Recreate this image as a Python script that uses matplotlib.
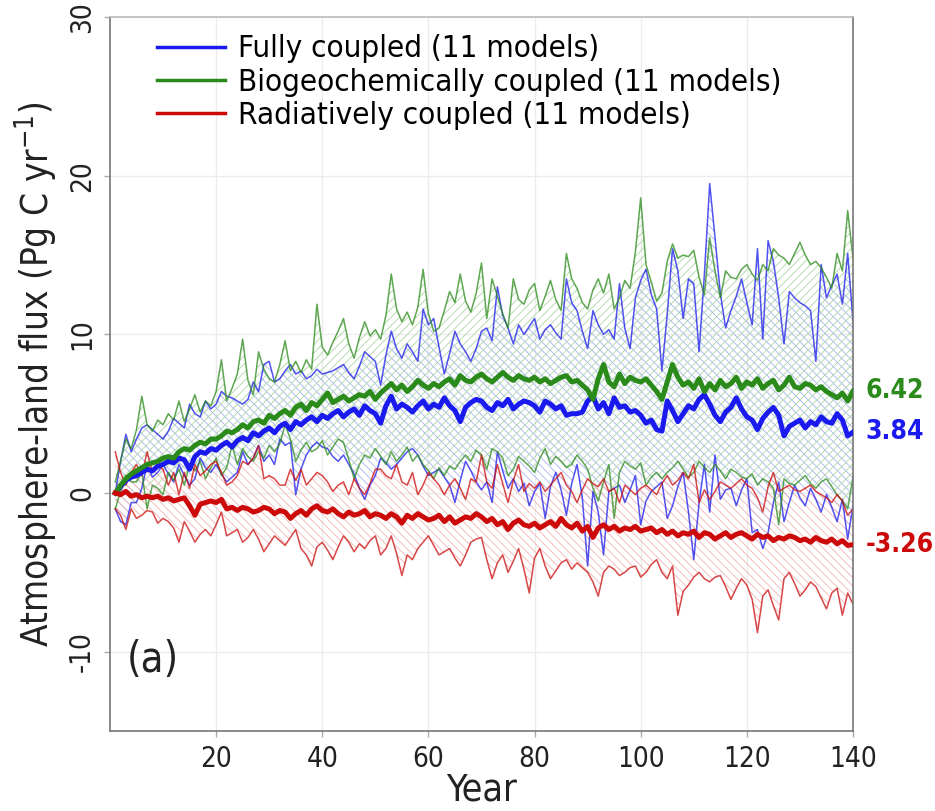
import numpy as np
import matplotlib
matplotlib.use("Agg")
import matplotlib.pyplot as plt

plt.rcParams['font.family'] = ['DejaVu Sans']
plt.rcParams['font.stretch'] = 'condensed'
plt.rcParams['hatch.linewidth'] = 0.6
plt.rcParams['axes.unicode_minus'] = False

years = np.arange(1, 141)

# Fully coupled: ensemble mean, upper and lower bounds
blue_mean = [
    0.0, 0.4, 0.8, 1.0, 1.1, 1.3, 1.5, 1.4, 1.7, 1.8, 2.0, 1.9, 2.2, 2.1, 1.5, 2.3, 2.6, 2.5, 2.8, 2.7,
    3.0, 3.2, 2.9, 3.3, 3.5, 3.3, 3.8, 3.6, 3.9, 4.1, 3.8, 4.2, 4.4, 4.0, 4.5, 4.3, 4.6, 4.8, 4.5, 4.9,
    4.7, 5.0, 5.2, 4.8, 5.1, 5.3, 4.9, 5.5, 5.2, 5.0, 4.4, 5.5, 6.1, 5.3, 5.6, 5.4, 5.1, 5.5, 5.8, 5.3,
    5.6, 5.4, 6.0, 5.5, 5.2, 4.5, 5.4, 5.7, 5.9, 5.8, 5.4, 5.2, 5.7, 5.5, 5.9, 5.3, 5.6, 5.8, 5.7, 5.5,
    5.1, 5.8, 5.6, 5.3, 5.5, 4.9, 5.0, 5.0, 5.1, 5.8, 6.1, 5.3, 5.7, 5.0, 6.0, 5.4, 5.5, 5.1, 5.2, 4.9,
    4.4, 4.6, 4.0, 3.9, 5.8, 5.2, 4.5, 5.0, 5.5, 5.3, 5.9, 6.2, 5.6, 4.9, 4.5, 5.1, 5.4, 6.0, 5.3, 4.8,
    4.6, 4.0, 4.7, 5.1, 5.4, 4.9, 3.6, 4.2, 4.4, 4.6, 4.1, 4.5, 4.3, 4.8, 4.5, 4.4, 5.0, 4.6, 3.6, 3.84,
]
blue_upper = [
    0.0, 2.0, 3.7, 2.6, 3.4, 4.1, 4.3, 4.0, 3.7, 3.4, 3.9, 4.7, 4.4, 4.1, 5.6, 5.0, 4.8, 5.8, 5.3, 5.6,
    6.4, 6.1, 6.0, 5.8, 5.6, 5.9, 7.0, 6.4, 8.1, 8.3, 7.0, 7.2, 7.7, 8.1, 7.5, 7.7, 7.2, 7.4, 7.8, 7.5,
    7.6, 7.7, 7.9, 8.1, 7.6, 7.2, 8.0, 8.9, 8.6, 8.3, 6.8, 8.7, 10.2, 9.1, 8.5, 9.4, 8.9, 8.3, 11.6, 10.6,
    11.0, 9.2, 7.5, 8.8, 10.2, 9.4, 8.9, 8.3, 9.1, 10.2, 10.4, 9.6, 13.0, 11.2, 10.4, 9.4, 10.6, 10.0, 10.5, 11.0,
    9.7, 10.3, 10.6, 10.1, 9.7, 13.5, 12.0, 11.5, 10.2, 9.1, 11.5, 10.6, 10.0, 10.3, 9.7, 13.2, 10.4, 9.1, 12.3, 13.4,
    14.1, 12.5, 11.6, 7.7, 11.3, 15.4, 14.0, 11.0, 13.5, 13.2, 8.9, 13.8, 19.5, 16.1, 12.6, 10.4, 11.5, 12.4, 13.5, 12.0,
    10.6, 15.4, 9.7, 15.9, 14.6, 12.3, 9.4, 12.7, 12.3, 12.0, 11.8, 11.5, 8.3, 14.4, 12.3, 13.1, 13.8, 11.9, 15.1, 10.8,
]
blue_lower = [
    -1.0, -1.8, -2.0, -0.6, -0.6, 0.3, 1.8, 1.0, 1.3, 1.8, 1.2, 0.7, 1.8, 1.1, 0.5, 0.9, 2.2, 1.6, 1.3, 1.8,
    1.2, 0.7, 1.0, 1.3, 2.6, 1.8, 2.2, 3.0, 2.0, 2.4, 1.8, 3.4, 3.0, 3.2, -0.1, 1.5, 2.4, 2.9, 3.2, 2.9,
    2.8, 2.3, 2.0, 2.4, 1.8, 1.2, 0.3, -0.4, 0.5, 1.1, 2.2, 1.9, 1.5, 1.8, 2.2, 2.6, 2.8, 2.4, 1.7, 1.1,
    1.3, 1.5, 1.0, 0.5, -0.6, 0.8, 2.0, 1.4, 0.7, 0.2, 0.7, -0.6, 2.6, 1.4, 0.3, 0.9, 0.1, 0.6, -0.8, 0.1,
    0.6, -1.6, 0.4, 1.3, 0.2, -1.4, 0.6, 1.8, -0.3, -4.6, 0.1, -1.2, -3.9, 0.1, 0.3, 0.5, -0.6, 0.2, 1.1, -2.0,
    -0.5, 0.1, 0.4, 0.7, -1.6, -0.8, 0.4, 1.3, -1.2, -4.2, -0.6, 1.8, -1.2, 2.4, -0.4, 0.2, 0.3, -0.8, 0.2, 0.9,
    -2.5, -2.3, -3.5, -2.5, -0.6, 0.7, -1.8, -0.6, 0.5, -0.3, -0.8, 0.3, -0.4, -1.2, -0.1, -0.9, -1.8, -0.4, -2.9, -0.8,
]

# Biogeochemically coupled
green_mean = [
    0.0, 0.5, 0.9, 1.2, 1.4, 1.6, 1.8, 1.9, 2.0, 2.2, 2.3, 2.2, 2.6, 2.8, 2.7, 3.0, 3.2, 3.1, 3.4, 3.4,
    3.6, 3.9, 3.8, 4.0, 4.3, 4.1, 4.5, 4.6, 4.4, 4.9, 4.7, 5.0, 5.2, 4.9, 5.4, 5.6, 5.2, 5.7, 5.5, 5.9,
    6.3, 5.7, 5.9, 6.1, 5.8, 6.0, 6.2, 6.1, 6.4, 5.9, 6.3, 6.6, 6.9, 6.5, 6.8, 6.4, 6.7, 7.1, 6.8, 6.6,
    6.9, 6.7, 7.0, 7.2, 6.8, 7.4, 7.1, 7.0, 7.3, 7.5, 7.2, 7.0, 7.3, 7.6, 7.3, 7.1, 7.4, 7.2, 7.1, 7.3,
    7.0, 7.2, 6.9, 7.1, 7.3, 7.4, 7.0, 7.1, 6.8, 6.5, 5.9, 7.2, 8.1, 7.0, 6.7, 7.5, 6.9, 7.3, 7.1, 7.0,
    7.2, 6.8, 6.4, 5.9, 7.0, 8.1, 7.3, 6.8, 7.0, 6.6, 7.2, 6.4, 6.9, 6.5, 7.1, 6.7, 6.9, 7.3, 6.6, 7.0,
    6.8, 7.2, 6.6, 6.9, 7.1, 6.5, 6.8, 7.3, 6.7, 6.6, 6.9, 6.8, 6.5, 6.7, 6.4, 6.2, 6.0, 6.3, 5.8, 6.42,
]
green_upper = [
    0.7, 2.0, 3.4, 2.8, 4.0, 6.1, 4.3, 3.9, 4.6, 4.3, 5.0, 4.6, 5.8, 4.5, 5.3, 6.2, 5.1, 5.8, 5.5, 6.4,
    8.4, 5.8, 6.6, 7.5, 9.7, 7.1, 6.2, 8.9, 7.8, 7.2, 7.0, 8.1, 9.6, 7.7, 8.3, 7.6, 8.4, 7.8, 11.9, 9.2,
    8.7, 9.5, 10.2, 11.0, 9.4, 8.5, 9.8, 10.8, 9.9, 10.3, 9.7, 11.2, 13.8, 11.6, 10.8, 11.4, 10.6, 11.7, 14.1, 11.3,
    10.2, 10.4, 11.5, 12.7, 12.0, 13.8, 12.1, 11.4, 12.6, 14.5, 11.0, 13.5, 12.4, 11.3, 10.4, 13.5, 12.2, 11.9, 12.8, 13.2,
    11.5, 12.4, 13.4, 12.2, 11.5, 15.1, 13.5, 12.9, 12.0, 11.6, 12.8, 13.5, 12.6, 13.8, 11.6, 12.3, 13.4, 12.9, 15.2, 18.6,
    14.4, 13.3, 12.1, 12.6, 14.6, 15.7, 14.8, 15.0, 14.9, 15.3, 13.6, 12.5, 16.1, 14.0, 12.3, 14.0, 13.6, 13.5, 14.1, 14.4,
    13.8, 13.4, 14.4, 14.0, 15.4, 15.0, 14.8, 14.4, 15.1, 15.8, 15.0, 14.4, 14.6, 14.2, 13.6, 12.9, 15.1, 14.0, 17.8, 14.8,
]
green_lower = [
    -1.0, 0.1, 1.1, 0.7, 0.7, 1.3, -1.0, 0.5, 0.3, -0.1, 1.3, 0.8, 1.5, 0.5, 1.8, 1.4, 2.0, 0.9, 1.6, 2.2,
    1.1, 1.6, 3.0, 1.8, 2.8, 2.3, 2.0, 2.6, 2.2, 3.0, 2.6, 3.1, 4.3, 3.4, 2.0, 2.7, 3.2, 2.6, 2.8, 3.3,
    2.4, 2.9, 3.4, 3.2, 2.1, 0.9, 1.8, 2.4, 2.2, 2.8, 2.3, 1.8, 2.6, 2.0, 2.4, 2.9, 2.0, 2.4, 1.8, 1.4,
    0.9, 1.6, 1.1, 1.7, 1.5, 2.0, 2.4, 2.0, 2.7, 2.4, 1.5, 2.8, 2.6, 2.2, 1.1, 1.5, 2.3, 2.0, 1.7, 1.3,
    2.2, 2.8, 1.8, 2.3, 2.0, 1.6, 1.8, 2.4, 2.0, 1.5, 0.3, -0.5, 0.7, 1.8, -1.6, 1.3, 2.0, 1.7, 1.5, 1.9,
    0.5, 1.0, 1.3, 0.9, 1.3, 1.6, 2.0, 1.5, 1.0, 1.3, 2.0, 1.6, 1.3, 1.8, 1.4, 0.9, 1.5, 1.3, 1.0, 0.9,
    1.2, 0.5, 0.9, 0.7, 0.3, -2.0, 0.9, 0.6, 0.5, 0.8, 1.1, 0.6, 0.3, 0.7, 0.9, 0.4, -0.1, -0.5, -1.0, 1.0,
]

# Radiatively coupled
red_mean = [
    0.0, -0.1, 0.1, -0.2, -0.1, -0.3, -0.2, -0.3, -0.2, -0.4, -0.3, -0.5, -0.4, -0.3, -0.8, -1.4, -0.7, -0.6, -0.5, -0.6,
    -0.4, -1.0, -0.9, -1.1, -0.9, -1.0, -1.2, -1.1, -0.9, -1.0, -1.3, -1.1, -1.2, -1.6, -1.3, -1.1, -1.4, -1.0, -0.8, -1.1,
    -1.2, -1.0, -1.3, -1.5, -1.2, -1.4, -1.3, -1.1, -1.5, -1.3, -1.4, -1.6, -1.3, -1.5, -1.9, -1.4, -1.6, -1.3, -1.5, -1.7,
    -1.6, -1.4, -1.8, -1.5, -1.9, -1.7, -1.5, -1.6, -1.3, -1.5, -1.8, -1.6, -2.0, -1.8, -2.3, -1.9, -1.7, -2.0, -2.1, -1.9,
    -2.2, -2.0, -1.8, -2.1, -1.6, -2.0, -2.2, -1.9, -2.4, -2.1, -2.8, -2.2, -2.0, -2.3, -2.1, -2.4, -2.2, -2.3, -2.1, -2.4,
    -2.3, -2.2, -2.5, -2.3, -2.6, -2.4, -2.7, -2.5, -2.6, -2.4, -2.8, -2.5, -2.6, -2.9, -2.7, -2.5, -2.8, -2.6, -2.5, -2.7,
    -2.9, -2.6, -2.8, -2.7, -3.0, -2.8, -2.9, -2.7, -2.8, -3.0, -2.9, -3.1, -2.8, -3.0, -3.1, -2.9, -3.2, -3.0, -3.3, -3.26,
]
red_upper = [
    2.6, 1.3, 0.5, 1.3, 1.8, 1.1, 2.6, 1.3, 1.8, 1.5, 0.5, 1.3, -0.1, 1.3, 0.3, 1.8, 1.1, 1.4, 1.8, 2.0,
    1.3, 0.5, 0.7, 1.1, 2.0, 1.8, 2.2, 3.0, 0.9, 1.1, 0.9, 0.5, 0.5, 1.5, 0.8, 1.5, 0.5, 0.9, 1.3, 1.1,
    0.7, 0.1, 0.5, 0.7, -0.1, 0.9, 0.3, -0.1, 0.6, 1.5, 1.5, 1.1, 0.9, 1.8, 0.7, 0.5, 1.3, -0.1, 0.5, 1.3,
    0.9, 0.5, -0.1, 0.5, 0.9, 0.3, -0.4, 0.9, 0.7, 2.4, 0.7, 0.3, 1.8, 0.6, -0.6, 0.8, 1.8, 0.1, 0.6, 0.3,
    0.7, 0.1, 0.5, 0.9, 1.3, 0.5, 0.1, -0.6, 0.2, 0.9, 0.6, 0.4, 0.9, 0.1, 0.3, -0.6, 0.5, 0.2, -0.1, 0.3,
    0.5, 0.2, -0.1, 0.6, 1.1, 0.5, 0.8, 1.3, 0.9, 1.8, -0.6, 0.2, -0.4, 0.1, 0.7, 0.5, 0.3, 0.6, 0.9, 0.5,
    0.3, -0.3, -1.2, 0.4, 1.3, 0.1, 0.3, 0.5, 0.2, 0.1, 0.3, 0.5, 0.1, -0.1, -0.3, -0.6, -0.1, -0.5, -1.4, -1.0,
]
red_lower = [
    -1.0, -1.4, -2.3, -1.0, -1.6, -1.4, -1.1, -1.2, -1.9, -1.6, -1.8, -2.2, -3.1, -1.8, -2.4, -3.1, -2.6, -2.3, -2.7, -2.0,
    -1.2, -2.7, -2.5, -2.3, -3.1, -2.8, -2.3, -2.9, -3.7, -3.2, -2.7, -3.0, -3.3, -2.8, -2.3, -3.5, -3.9, -4.6, -3.4, -3.1,
    -3.6, -4.2, -3.4, -2.7, -3.1, -3.7, -3.2, -3.5, -3.0, -2.7, -3.9, -3.5, -2.7, -3.8, -5.2, -3.9, -4.2, -3.5, -3.1, -2.7,
    -3.3, -3.9, -3.7, -3.5, -4.1, -4.6, -3.9, -3.1, -2.9, -2.8, -4.2, -5.4, -4.4, -3.9, -5.0, -4.3, -3.5, -4.8, -6.3, -4.1,
    -3.5, -4.6, -5.4, -4.9, -4.4, -4.2, -4.8, -4.4, -4.7, -5.0, -5.6, -6.5, -5.0, -4.6, -4.8, -5.2, -5.0, -4.7, -4.6, -5.3,
    -5.0, -4.5, -4.2, -5.0, -5.4, -4.6, -7.7, -6.2, -5.8, -5.3, -5.0, -5.4, -5.6, -5.3, -5.2, -5.9, -6.7, -6.0, -5.4, -5.8,
    -6.7, -8.8, -6.5, -6.1, -7.1, -8.0, -5.4, -5.0, -5.7, -6.5, -6.1, -5.6, -5.9, -6.6, -7.3, -6.3, -6.0, -7.7, -6.3, -7.0,
]

labels = ['Fully coupled (11 models)',
          'Biogeochemically coupled (11 models)',
          'Radiatively coupled (11 models)']
line_colors = ['#1a1aee', '#2a8a1a', '#cc0a0a']
hatch_colors = ['#a6b4f0', '#acd6a4', '#f2b4b4']
hatches = ['\\\\\\\\', '////', '\\\\\\\\']

fig = plt.figure(figsize=(9.35, 8.11), dpi=100)
ax = fig.add_axes([0.1176, 0.0986, 0.7947, 0.8804])

series = [(blue_mean, blue_upper, blue_lower),
          (green_mean, green_upper, green_lower),
          (red_mean, red_upper, red_lower)]

# hatched ranges first
for (m, up, lo), hc, h in zip(series, hatch_colors, hatches):
    ax.fill_between(years, lo, up, facecolor='none', edgecolor=hc,
                    hatch=h, linewidth=0, zorder=1)

# thin range lines
for (m, up, lo), c in zip(series, line_colors):
    ax.plot(years, up, color=c, lw=1.1, alpha=0.75, zorder=2)
    ax.plot(years, lo, color=c, lw=1.1, alpha=0.75, zorder=2)

# thick ensemble means
handles = []
for (m, up, lo), c, lab in zip(series, line_colors, labels):
    ln, = ax.plot(years, m, color=c, lw=3.6, zorder=3, label=lab)
    handles.append(ln)
    ax.annotate(f'{m[-1]:.2f}', xy=(years[-1], m[-1]), xytext=(9, 0),
                textcoords='offset points', color=c, fontsize=19,
                fontweight='bold', va='center', ha='left',
                annotation_clip=False)

leg = ax.legend(handles=handles, loc='upper left', frameon=False,
                fontsize=22.5, handlelength=2.2, handletextpad=0.4,
                labelspacing=0.14, bbox_to_anchor=(0.025, 1.015))
for h in leg.legend_handles:
    h.set_linewidth(2.5)

ax.text(3.2, -10.5, '(a)', fontsize=30, ha='left', va='center', color='#222222')

ax.set_xlim(0, 140)
ax.set_ylim(-15, 30)
ax.set_xticks([20, 40, 60, 80, 100, 120, 140])
ax.set_yticks([-10, 0, 10, 20, 30])
ax.tick_params(axis='both', labelsize=20, length=4, width=1, color='#aaaaaa',
               labelcolor='#222222', pad=6)
for t in ax.get_yticklabels():
    t.set_rotation(90)
    t.set_va('center')
ax.grid(True, color='#ececec', lw=1.0, zorder=0)
ax.set_axisbelow(True)
for s in ['left', 'bottom', 'right', 'top']:
    ax.spines[s].set_color('#777777')
    ax.spines[s].set_linewidth(1.2)
ax.spines['top'].set_color('#bbbbbb')

ax.set_xlabel('Year', fontsize=27, labelpad=0, color='#222222')
ax.set_ylabel('Atmosphere-land flux (Pg C yr$^{-1}$)', fontsize=26.5,
              labelpad=6, color='#222222')

fig.savefig('out.png', dpi=100)
